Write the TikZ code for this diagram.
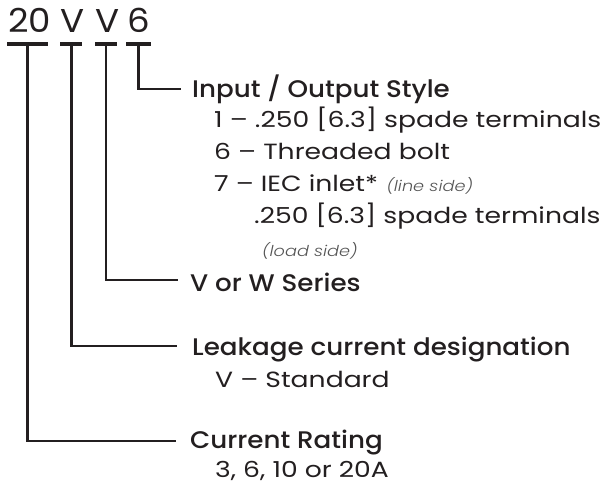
\documentclass[tikz,border=0pt]{standalone}
\usepackage{fontspec}
\setmainfont{Poppins}
\newfontfamily\bodyfont[FakeStretch=1.21]{Poppins}
\newfontfamily\headfont[FakeStretch=1.09]{Poppins Medium}
\newfontfamily\codefont[FakeStretch=1.08]{Poppins}
\newfontfamily\notefont[FakeStretch=1.18]{Poppins Light}
\definecolor{ink}{HTML}{231F20}
\definecolor{notegray}{HTML}{555555}
\begin{document}
\begin{tikzpicture}[x=1pt,y=-1pt,
  code/.style={font=\codefont\fontsize{33}{33}\selectfont, inner sep=0pt, anchor=base west, text=ink},
  head/.style={font=\headfont\fontsize{24}{24}\selectfont, inner sep=0pt, anchor=base west, text=ink},
  item/.style={font=\bodyfont\fontsize{22}{22}\selectfont, inner sep=0pt, anchor=base west, text=ink},
  note/.style={font=\notefont\itshape\fontsize{15}{15}\selectfont, inner sep=0pt, anchor=base west, text=notegray},
  bar/.style={line width=3.4pt, draw=ink},
  link/.style={line width=2.2pt, draw=ink}]
\useasboundingbox (0,0) rectangle (603,484);
% code letters
\node[code] (c20) at (8,33) {20};
\node[code] (cv1) at (60,33) {V};
\node[code] (cv2) at (95,33) {V};
\node[code] (c6) at (127,33) {6};
% bars
\coordinate (b20a) at (7,44);  \coordinate (b20b) at (48,44);
\coordinate (bv1a) at (60,44); \coordinate (bv1b) at (82,44);
\coordinate (bv2a) at (95,44); \coordinate (bv2b) at (117,44);
\coordinate (b6a) at (126,44); \coordinate (b6b) at (151,44);
\draw[bar] (b20a) -- (b20b);
\draw[bar] (bv1a) -- (bv1b);
\draw[bar] (bv2a) -- (bv2b);
\draw[bar] (b6a) -- (b6b);
\coordinate (t20) at (27.5,44);
\coordinate (tv1) at (71.5,44);
\coordinate (tv2) at (106,44);
\coordinate (t6) at (138.5,44);
% hook ends
\coordinate (e6) at (181,89);
\coordinate (ev2) at (178,280);
\coordinate (ev1) at (177,346);
\coordinate (e20) at (176,441);
\draw[link] (t6) |- (e6);
\draw[link] (tv2) |- (ev2);
\draw[link] (tv1) |- (ev1);
\draw[link] (t20) |- (e20);
% headings and items
\node[head] (h1) at (192,98) {Input / Output Style};
\node[item] (i1) at (214,128) {1 – .250 [6.3] spade terminals};
\node[item] (i2) at (214,160) {6 – Threaded bolt};
\node[item] (i3) at (214,192) {7 – IEC inlet*};
\node[note] (n1) at ([xshift=8pt]i3.base east) {(line side)};
\node[item] (i4) at (254,224) {.250 [6.3] spade terminals};
\node[note] (n2) at (262,257) {(load side)};
\node[head] (h2) at (190,291) {V or W Series};
\node[head] (h3) at (192,355) {Leakage current designation};
\node[item] (i5) at (215,387) {V – Standard};
\node[head] (h4) at (190,448) {Current Rating};
\node[item] (i6) at (215,477) {3, 6, 10 or 20A};
\end{tikzpicture}
\end{document}
